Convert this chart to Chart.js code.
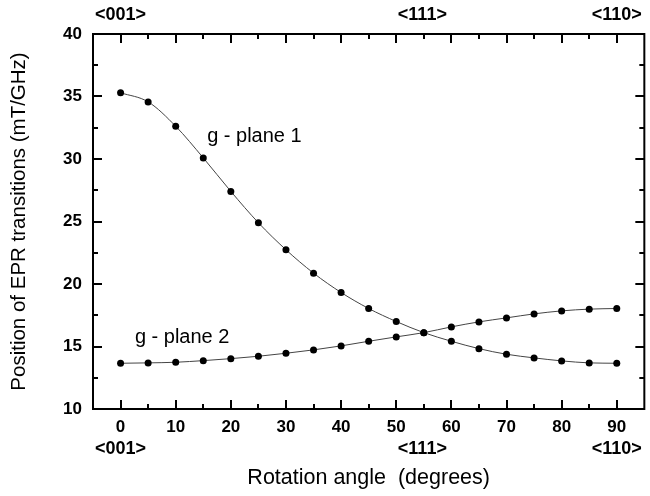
<!DOCTYPE html>
<html>
<head>
<meta charset="utf-8">
<script src="https://cdn.jsdelivr.net/npm/chart.js@4/dist/chart.umd.min.js"></script>
<style>
    html, body { margin: 0; padding: 0; background: #fff; }
    #wrap { width: 650px; height: 496px; }
</style>
</head>
<body>
<div id="wrap"><canvas id="chart"></canvas></div>
<script>
// rotation angle (degrees) and line positions (mT/GHz)
var angles = [0, 5, 10, 15, 20, 25, 30, 35, 40, 45, 50, 55, 60, 65, 70, 75, 80, 85, 90];
var plane1 = [35.3, 34.57, 32.62, 30.09, 27.41, 24.9, 22.74, 20.87, 19.32, 18.04, 17.0, 16.11, 15.42, 14.83, 14.38, 14.09, 13.85, 13.69, 13.66];
var plane2 = [13.66, 13.69, 13.74, 13.87, 14.03, 14.22, 14.46, 14.73, 15.05, 15.42, 15.77, 16.11, 16.57, 16.97, 17.29, 17.61, 17.85, 17.99, 18.04];

var xTicks = [0, 10, 20, 30, 40, 50, 60, 70, 80, 90];
var xMinorTicks = [5, 15, 25, 35, 45, 55, 65, 75, 85];
var yTicks = [10, 15, 20, 25, 30, 35, 40];
var yMinorTicks = [12.5, 17.5, 22.5, 27.5, 32.5, 37.5];
var dirAngles = [0, 54.74, 90];
var dirLabels = ['<001>', '<111>', '<110>'];

var FONT = "'Liberation Sans', Arial, sans-serif";

function points(ys) {
    return angles.map(function(a, i) { return { x: a, y: ys[i] }; });
}

function fixedTicks(list) {
    return function(scale) {
        scale.ticks = list.map(function(v) { return { value: v }; });
    };
}

// frame with inward ticks + the two curve labels
var framePlugin = {
    id: 'frame',
    afterDatasetsDraw: function(chart) {
        var ctx = chart.ctx, a = chart.chartArea;
        var xs = chart.scales.x, ys = chart.scales.y;
        ctx.save();
        ctx.strokeStyle = '#000';
        ctx.lineWidth = 2;
        ctx.strokeRect(a.left, a.top, a.right - a.left, a.bottom - a.top);

        ctx.beginPath();
        function xt(list, len) {
            list.forEach(function(v) {
                var px = Math.round(xs.getPixelForValue(v));
                ctx.moveTo(px, a.bottom); ctx.lineTo(px, a.bottom - len);
                ctx.moveTo(px, a.top); ctx.lineTo(px, a.top + len);
            });
        }
        function yt(list, len) {
            list.forEach(function(v) {
                var py = Math.round(ys.getPixelForValue(v));
                ctx.moveTo(a.left, py); ctx.lineTo(a.left + len, py);
                ctx.moveTo(a.right, py); ctx.lineTo(a.right - len, py);
            });
        }
        xt(xTicks, 9); xt(xMinorTicks, 5);
        yt(yTicks, 9); yt(yMinorTicks, 5);
        ctx.stroke();

        ctx.fillStyle = '#000';
        ctx.font = '20px ' + FONT;
        ctx.textAlign = 'left';
        ctx.textBaseline = 'alphabetic';
        ctx.fillText('g - plane 1', xs.getPixelForValue(15.7), ys.getPixelForValue(31.4));
        ctx.fillText('g - plane 2', xs.getPixelForValue(2.6), ys.getPixelForValue(15.29));
        ctx.restore();
    }
};

var lineStyle = {
    showLine: true,
    borderColor: '#444',
    borderWidth: 1,
    pointRadius: 3.5,
    pointBackgroundColor: '#000',
    pointBorderColor: '#000',
    pointBorderWidth: 0,
    cubicInterpolationMode: 'monotone'
};

new Chart(document.getElementById('chart'), {
    type: 'scatter',
    plugins: [framePlugin],
    data: {
        datasets: [
            Object.assign({ label: 'g - plane 1', data: points(plane1) }, lineStyle),
            Object.assign({ label: 'g - plane 2', data: points(plane2) }, lineStyle)
        ]
    },
    options: {
        responsive: true,
        maintainAspectRatio: false,
        animation: false,
        layout: { padding: { left: 0, right: 1, top: 0, bottom: 0 } },
        plugins: {
            legend: { display: false },
            tooltip: { enabled: false }
        },
        scales: {
            x: {
                type: 'linear',
                position: 'bottom',
                min: -5,
                max: 95,
                afterBuildTicks: fixedTicks(xTicks),
                afterFit: function(s) { s.height = 28; },
                grid: { display: false, drawTicks: false },
                border: { display: false },
                ticks: { color: '#000', padding: 8, font: { family: FONT, size: 17, weight: 'bold' } }
            },
            xDir: {
                type: 'linear',
                position: 'bottom',
                min: -5,
                max: 95,
                afterBuildTicks: fixedTicks(dirAngles),
                afterFit: function(s) { s.height = 59; },
                grid: { display: false, drawTicks: false },
                border: { display: false },
                ticks: {
                    color: '#000', padding: 1, autoSkip: false, maxRotation: 0,
                    font: { family: FONT, size: 18, weight: 'bold' },
                    callback: function(v) { return dirLabels[dirAngles.indexOf(v)]; }
                },
                title: {
                    display: true,
                    text: 'Rotation angle  (degrees)',
                    color: '#000',
                    padding: { top: 0, bottom: 5 },
                    font: { family: FONT, size: 21.5 }
                }
            },
            xTop: {
                type: 'linear',
                position: 'top',
                min: -5,
                max: 95,
                afterBuildTicks: fixedTicks(dirAngles),
                afterFit: function(s) { s.height = 34; },
                grid: { display: false, drawTicks: false },
                border: { display: false },
                ticks: {
                    color: '#000', padding: 8, autoSkip: false, maxRotation: 0,
                    font: { family: FONT, size: 18, weight: 'bold' },
                    callback: function(v) { return dirLabels[dirAngles.indexOf(v)]; }
                }
            },
            y: {
                type: 'linear',
                position: 'left',
                min: 10,
                max: 40,
                afterBuildTicks: fixedTicks(yTicks),
                afterFit: function(s) { s.width = 93; },
                grid: { display: false, drawTicks: false },
                border: { display: false },
                ticks: { color: '#000', padding: 11, font: { family: FONT, size: 17, weight: 'bold' } },
                title: {
                    display: true,
                    text: 'Position of EPR transitions (mT/GHz)',
                    color: '#000',
                    padding: { top: 7, bottom: 0 },
                    font: { family: FONT, size: 20.5 }
                }
            }
        }
    }
});
</script>
</body>
</html>
